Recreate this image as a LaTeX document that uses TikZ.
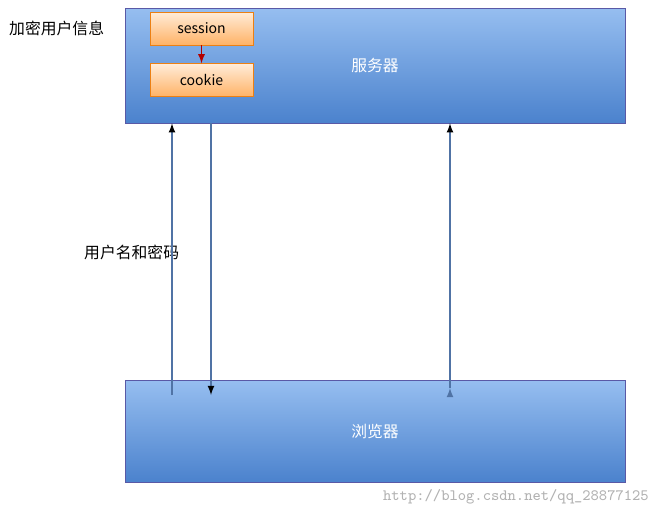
\documentclass[tikz,border=0pt]{standalone}
\usepackage{fontspec}
\setmainfont{Noto Sans CJK SC}
\usetikzlibrary{positioning}
\begin{document}
\begin{tikzpicture}[x=0.02cm, y=-0.02cm, >=latex]
        \tikzstyle{bluebox} = [draw=blue!30!gray, top color={rgb,255:red,150;green,190;blue,240}, bottom color={rgb,255:red,75;green,130;blue,205}, minimum width=10cm, text=white, font=\small]
        \tikzstyle{orangebox} = [draw=orange!70!brown, top color=orange!15, bottom color=orange!60, minimum width=2.06cm, minimum height=0.66cm, font=\footnotesize]
        \tikzstyle{link} = [->, draw={rgb,255:red,80;green,115;blue,165}, thick]
        \useasboundingbox (0,0) rectangle (663,517);
        \node[bluebox, minimum height=2.3cm] (server) at (375,65.5) {服务器};
        \node[bluebox, minimum height=2.04cm] (browser) at (375,431) {浏览器};
        \node[orangebox] (session) at (201.5,28.5) {session};
        \node[orangebox, below = 0.36cm of session] (cookie) {cookie};
        \node[anchor=west, font=\small] (encrypt) at (3,28) {加密用户信息};
        \node[anchor=west, font=\small] (cred) at (78,252) {用户名和密码};
        \node[anchor=south east, text=gray!60, font=\ttfamily\small] (mark) at (655,510) {http://blog.csdn.net/qq\_28877125};
        \coordinate (b1) at (172,395);
        \coordinate (b2) at (211,395);
        \coordinate (b3) at (450,388);
        \draw[->, red!70!black, thick] (session) -- (cookie);
        \path[link] (b1) edge (server.south -| b1)
                (server.south -| b2) edge (b2)
                (b3) edge (server.south -| b3);
\end{tikzpicture}
\end{document}
